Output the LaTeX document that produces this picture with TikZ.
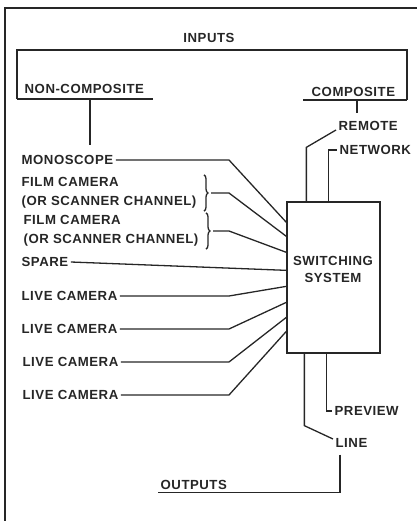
\documentclass[tikz,border=0pt]{standalone}
\usepackage{fontspec}
\setmainfont{Liberation Sans}[LetterSpace=4]
\usetikzlibrary{decorations.pathreplacing}
\tikzset{
  lbl/.style={anchor=west, inner sep=2pt, text height=9.7pt, text depth=0pt, font=\bfseries\fontsize{13.2}{19}\selectfont},
  twolbl/.style={anchor=west, inner sep=2pt, align=left, font=\bfseries\fontsize{13.2}{19}\selectfont},
  brc/.style={decorate, decoration={brace, amplitude=4pt, raise=5pt}}
}
\begin{document}
\begin{tikzpicture}[x=1pt, y=-1pt, line width=1.3pt, color=black!85]
\useasboundingbox (0,0) rectangle (417,521);
\draw[line width=1.8pt] (5,521) -- (5,8) -- (417,8);
\node[lbl, anchor=center] (inputs) at (209,38) {INPUTS};
\node[lbl] (nc) at (22,89) {NON-COMPOSITE};
\node[lbl] (co) at (309,92) {COMPOSITE};
\draw (17,99) -- (17,50) -- (407,50) -- (407,100);
\draw (17,99) -- (153,99);
\draw (303,100) -- (407,100);
\draw (90,99) -- (90,145);
\draw (357,100) -- (357,113);
\node[draw, minimum width=93pt, minimum height=151pt] (sw) at (333.5,277.5) {};
\node[align=center, font=\bfseries\fontsize{13.2}{17}\selectfont] (swt) at (333,269.5) {SWITCHING\\SYSTEM};
\coordinate (kx) at (229,0);
\node[lbl] (mono) at (19,160) {MONOSCOPE};
\node[twolbl] (f1) at (19,193) {FILM CAMERA\\(OR SCANNER CHANNEL)};
\node[twolbl] (f2) at (21,231) {FILM CAMERA\\(OR SCANNER CHANNEL)};
\node[lbl] (spare) at (19,262) {SPARE};
\node[lbl] (live1) at (19,296) {LIVE CAMERA};
\node[lbl] (live2) at (19,329) {LIVE CAMERA};
\node[lbl] (live3) at (20,362) {LIVE CAMERA};
\node[lbl] (live4) at (20,395) {LIVE CAMERA};
\node[lbl] (rem) at (336,126) {REMOTE};
\node[lbl] (net) at (337,150) {NETWORK};
\node[lbl] (prev) at (332,411) {PREVIEW};
\node[lbl] (line) at (333,443) {LINE};
\node[lbl] (out) at (158,485) {OUTPUTS};
\draw (mono.east) -- (mono.east -| kx) -- ([yshift=-21pt]sw.north west);
\draw[brc] (f1.north east) -- (f1.south east);
\draw ([xshift=12pt]f1.east) -- (f1.east -| kx) -- ([yshift=-35pt]sw.north west);
\draw[brc] (f2.north east) -- (f2.south east);
\draw ([xshift=12pt]f2.east) -- (f2.east -| kx) -- ([yshift=-51pt]sw.north west);
\draw (spare.east) -- ([yshift=-69pt]sw.north west);
\draw (live1.east) -- (live1.east -| kx) -- ([yshift=-85pt]sw.north west);
\draw (live2.east) -- (live2.east -| kx) -- ([yshift=-101pt]sw.north west);
\draw (live3.east) -- (live3.east -| kx) -- ([yshift=-116pt]sw.north west);
\draw (live4.east) -- (live4.east -| kx) -- ([yshift=-130pt]sw.north west);
\draw ([xshift=20pt]sw.north west) -- ++(0,-54) -- ([yshift=-4pt]rem.west);
\draw ([xshift=42pt]sw.north west) |- (net.west);
\draw ([xshift=40pt]sw.south west) |- (prev.west);
\draw ([xshift=18pt]sw.south west) -- ++(0,72) -- ([yshift=4pt]line.west);
\draw ([xshift=7pt]line.south west) ++(0,4) |- (out.south west);
\end{tikzpicture}
\end{document}
